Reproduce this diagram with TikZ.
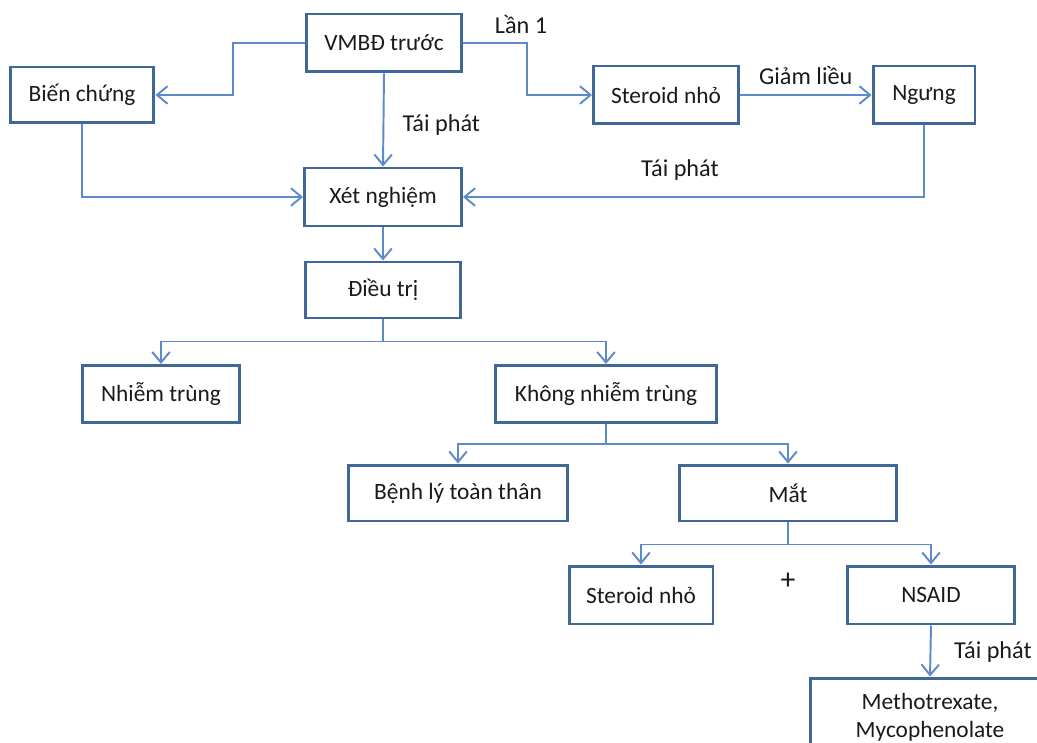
\documentclass[tikz,border=0pt]{standalone}
\usepackage{fontspec}
\setmainfont{Carlito}
\usetikzlibrary{arrows.meta}

\definecolor{boxblue}{HTML}{3F6797}
\definecolor{lineblue}{HTML}{5C8ACB}
\definecolor{textgrey}{HTML}{1A1A1A}

\tikzset{
  box/.style={draw=boxblue, line width=1.7pt, fill=white, text=textgrey,
    minimum height=1.12cm, inner sep=2pt, font=\fontsize{13.3}{16}\selectfont},
  link/.style={draw=lineblue, line width=1.1pt, -{Straight Barb[length=6pt, width=10pt]}},
  tag/.style={text=textgrey, font=\fontsize{13.8}{16}\selectfont}
}

\begin{document}
\begin{tikzpicture}[x=0.02cm, y=-0.02cm]
        \useasboundingbox (0, 0) rectangle (1037, 743);

        \node [box, minimum width=3.12cm, minimum height=1.16cm] (vmbd) at (384, 43) {VMBĐ trước};
        \node [box, minimum width=2.88cm] (bienchung) at (82, 95) {Biến chứng};
        \node [box, minimum width=2.9cm, minimum height=1.16cm] (steroid) at (666, 95) {Steroid nhỏ};
        \node [box, minimum width=2.04cm, minimum height=1.16cm] (ngung) at (924, 95) {Ngưng};
        \node [box, minimum width=3.14cm, minimum height=1.16cm] (xetnghiem) at (383, 197) {Xét nghiệm};
        \node [box, minimum width=3.1cm] (dieutri) at (383, 290) {Điều trị};
        \node [box, minimum width=3.16cm, minimum height=1.14cm] (nhiemtrung) at (161, 394) {Nhiễm trùng};
        \node [box, minimum width=4.42cm, minimum height=1.14cm] (khong) at (606, 394) {Không nhiễm trùng};
        \node [box, minimum width=4.38cm] (benhly) at (458, 493) {Bệnh lý toàn thân};
        \node [box, minimum width=4.34cm] (mat) at (788, 493) {Mắt};
        \node [box, minimum width=2.88cm, minimum height=1.16cm] (steroidb) at (641, 595) {Steroid nhỏ};
        \node [box, minimum width=3.34cm, minimum height=1.16cm] (nsaid) at (931, 595) {NSAID};
        \node [box, minimum width=4.8cm, minimum height=1.56cm, align=center] (mtx) at (930, 717) {Methotrexate,\\Mycophenolate};

        \node [tag] (plus) at (788, 581) {\fontsize{17}{18}\selectfont +};

        % top row
        \draw [link] (vmbd.west) -- (233, 43) |- (bienchung.east);
        \draw [link] (vmbd.east) -- (527, 43) |- (steroid.west);
        \node [tag] (lan) at (521, 24) {Lần 1};
        \draw [link] (steroid.east) -- (ngung.west) node [pos=0.5, above=2pt, tag] {Giảm liều};

        % back to Xet nghiem
        \draw [link] (vmbd.south) -- (xetnghiem.north) node [pos=0.55, right=7pt, tag] {Tái phát};
        \draw [link] (bienchung.south) |- (xetnghiem.west);
        \draw [link] (ngung.south) |- (xetnghiem.east);
        \node [tag] (taiphat) at (680, 170) {Tái phát};
        \draw [link] (xetnghiem.south) -- (dieutri.north);

        % branches
        \draw [draw=lineblue, line width=1.1pt] (dieutri.south) -- ++(0, 22) coordinate (fork1);
        \draw [link] (fork1) -| (nhiemtrung.north);
        \draw [link] (fork1) -| (khong.north);

        \draw [draw=lineblue, line width=1.1pt] (khong.south) -- ++(0, 20) coordinate (fork2);
        \draw [link] (fork2) -| (benhly.north);
        \draw [link] (fork2) -| (mat.north);

        \draw [draw=lineblue, line width=1.1pt] (mat.south) -- ++(0, 22) coordinate (fork3);
        \draw [link] (fork3) -| (steroidb.north);
        \draw [link] (fork3) -| (nsaid.north);

        \draw [link] (nsaid.south) -- (mtx.north);
        \node [tag] (taiphatb) at (993, 652) {Tái phát};
      \end{tikzpicture}
\end{document}
